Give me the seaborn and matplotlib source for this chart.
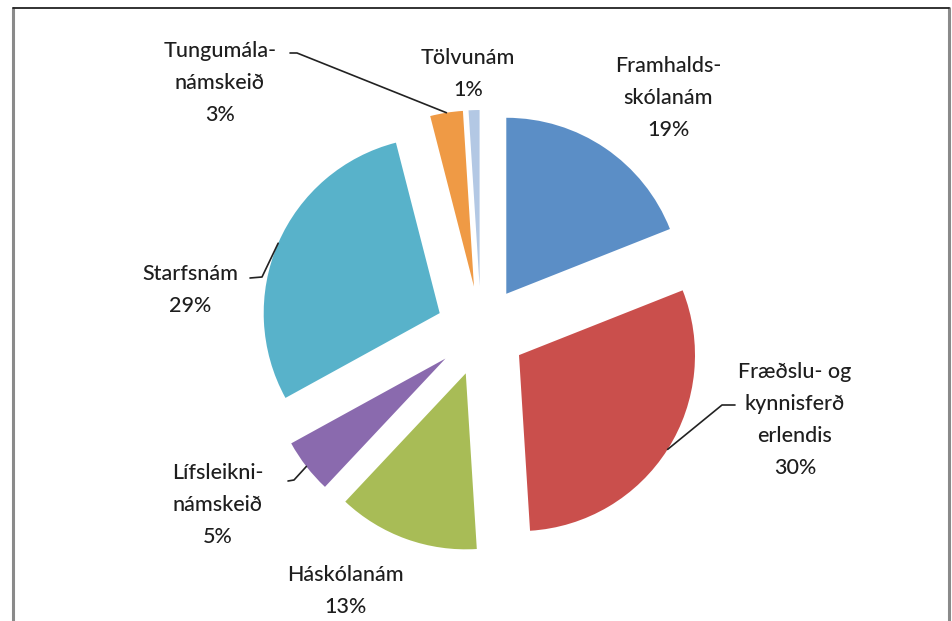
import matplotlib
matplotlib.use("Agg")
import matplotlib.pyplot as plt
import seaborn as sns
import numpy as np

categories = ["Framhalds-\nskólanám", "Fræðslu- og\nkynnisferð\nerlendis", "Háskólanám",
              "Lífsleikni-\nnámskeið", "Starfsnám", "Tungumála-\nnámskeið", "Tölvunám"]
values = [19, 30, 13, 5, 29, 3, 1]
colors = ["#5B8EC6", "#CA4F4C", "#A8BC56", "#8A6AAE", "#58B2CA", "#EF9A45", "#B3C8E4"]

# label anchor (centre of text block) in pixel coords (y measured from top)
label_pos = [(668, 98), (795, 420), (345, 591), (218, 505), (190, 290), (220, 83), (468, 74)]

sns.set_theme(style="white")
plt.rcParams['font.family'] = ['Lato', 'DejaVu Sans']

W, H = 953, 621
fig = plt.figure(figsize=(W / 100, H / 100), dpi=100)
ax = fig.add_axes([0, 0, 1, 1])

cx, cy = 481, H - 331
R = 176
ex = 45
wedges, _ = ax.pie(values, colors=colors, startangle=90, counterclock=False,
                   explode=[ex] * len(values), radius=R, center=(cx, cy),
                   wedgeprops=dict(linewidth=0))
ax.set_xlim(0, W)
ax.set_ylim(0, H)
ax.set_aspect('equal')
ax.axis('off')

txt_color = "#1e1e1e"
for cat, v, (lx, ly) in zip(categories, values, label_pos):
    ax.text(lx, H - ly, f"{cat}\n{v}%", ha='center', va='center', fontsize=15.5,
            fontweight='medium', color=txt_color, linespacing=1.75)

# leader lines: from wedge mid-angle outer point to an elbow near the text
def wedge_point(i):
    w = wedges[i]
    mid = np.deg2rad((w.theta1 + w.theta2) / 2)
    return (cx + (R + ex) * np.cos(mid), cy + (R + ex) * np.sin(mid))

leaders = {5: [(290, 53), (297, 53)], 4: [(250, 278), (262, 277)],
           1: [(735, 405), (722, 405)], 3: [(288, 481), (294, 480)]}
for i, pts in leaders.items():
    px, py = wedge_point(i)
    xs = [p[0] for p in pts] + [px]
    ys = [H - p[1] for p in pts] + [py]
    ax.plot(xs, ys, color="#222222", lw=1.2, solid_capstyle='round')

# frame
ax.plot([13, 13], [0, H - 7.5], color="#8a8a8a", lw=2.2)
ax.plot([949, 949], [0, H - 7.5], color="#8a8a8a", lw=2.2)
ax.plot([13, 949], [H - 7.5, H - 7.5], color="#222222", lw=1.3)

fig.savefig("out.png", dpi=100, facecolor="white")
